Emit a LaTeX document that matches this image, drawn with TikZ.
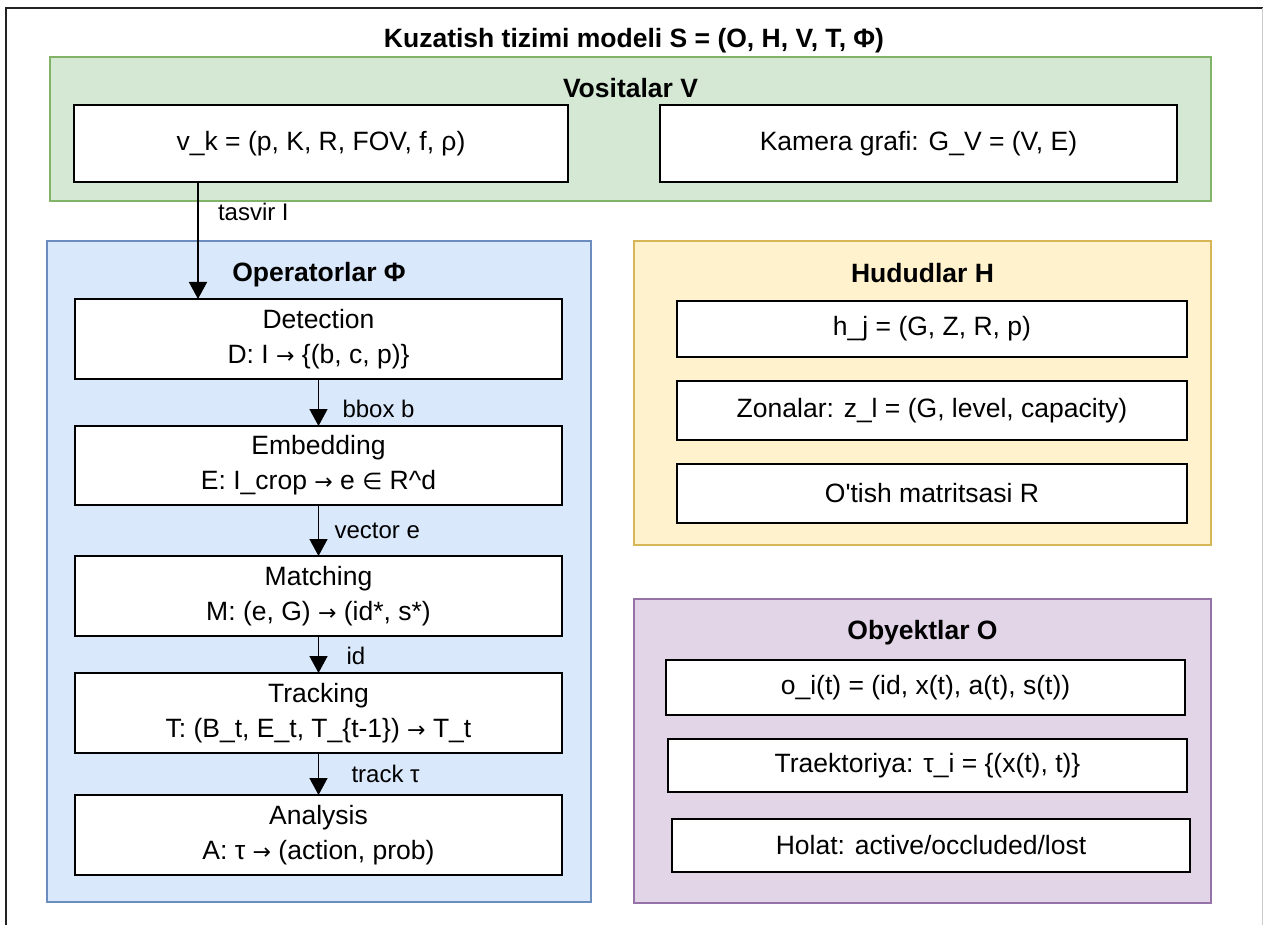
\documentclass[tikz,border=0pt]{standalone}
\usepackage{fontspec}
\setmainfont{Liberation Sans}
\newfontfamily\dejavu{DejaVu Sans}
\newcommand{\rarr}{{\dejavu\fontsize{22}{22}\selectfont →}}
\usetikzlibrary{arrows.meta}
\definecolor{gfill}{HTML}{D5E8D4}
\definecolor{gline}{HTML}{82B366}
\definecolor{bfill}{HTML}{DAE8FC}
\definecolor{bline}{HTML}{6C8EBF}
\definecolor{yfill}{HTML}{FFF2CC}
\definecolor{yline}{HTML}{D6B656}
\definecolor{pfill}{HTML}{E1D5E7}
\definecolor{pline}{HTML}{9673A6}
\definecolor{frameline}{HTML}{222222}
\definecolor{edgeline}{HTML}{CCCCCC}
\begin{document}
\begin{tikzpicture}[x=1pt,y=-1pt,
  every node/.style={inner sep=0pt, outer sep=0pt},
  box/.style={draw=black, line width=1.5pt, fill=white, align=center,
    font=\fontsize{26.5}{35}\selectfont},
  grp/.style={line width=2pt},
  grptitle/.style={font=\fontsize{26.5}{32}\selectfont\bfseries},
  arr/.style={draw=black, line width=1.5pt, -{Triangle[length=17pt,width=18pt]}},
  lbl/.style={font=\fontsize{24}{28}\selectfont, anchor=west}
]
\useasboundingbox (0,0) rectangle (1263,925);
% outer frame
\draw[frameline, line width=1.5pt] (6,930) -- (6,8) -- (1263,8);
\draw[edgeline, line width=1pt] (1262,8) -- (1262,930);
% title
\node[grptitle] (title) at (634,41) {Kuzatish tizimi modeli S = (O, H, V, T, Φ)};

% containers
\node[grp, draw=gline, fill=gfill, minimum width=1161pt, minimum height=144pt] (gV) at (630.5,129) {};
\node[grp, draw=bline, fill=bfill, minimum width=544pt, minimum height=661pt] (gP) at (319,571.5) {};
\node[grp, draw=yline, fill=yfill, minimum width=577pt, minimum height=304pt] (gH) at (922.5,393) {};
\node[grp, draw=pline, fill=pfill, minimum width=577pt, minimum height=304pt] (gO) at (922.5,751) {};

\node[grptitle] (tV) at (630.5,88) {Vositalar V};
\node[grptitle] (tP) at (319,275) {Operatorlar Φ};
\node[grptitle] (tH) at (922.5,273) {Hududlar H};
\node[grptitle] (tO) at (922.5,633) {Obyektlar O};

% Vositalar
\node[box, minimum width=494pt, minimum height=77pt] (vk) at (321,143.5) {v\_k = (p, K, R, FOV, f, ρ)};
\node[box, minimum width=517pt, minimum height=77pt] (kam) at (918.5,143.5) {Kamera grafi: G\_V = (V, E)};

% Operators
\node[box, minimum width=487pt, minimum height=80pt] (det) at (318.5,339) {Detection\\D: I \rarr{} \{(b, c, p)\}};
\node[box, minimum width=487pt, minimum height=79pt] (emb) at (318.5,465.5) {Embedding\\E: I\_crop \rarr{} e {\dejavu\fontsize{23}{23}\selectfont ∈} R\textasciicircum d};
\node[box, minimum width=487pt, minimum height=80pt] (mat) at (318.5,596) {Matching\\M: (e, G) \rarr{} (id*, s*)};
\node[box, minimum width=487pt, minimum height=80pt] (trk) at (318.5,713) {Tracking\\T: (B\_t, E\_t, T\_\{t-1\}) \rarr{} T\_t};
\node[box, minimum width=487pt, minimum height=80pt] (ana) at (318.5,835) {Analysis\\A: τ \rarr{} (action, prob)};

% Hududlar
\node[box, minimum width=510pt, minimum height=56pt] (hj) at (932,329) {h\_j = (G, Z, R, p)};
\node[box, minimum width=510pt, minimum height=59pt] (zon) at (932,410.5) {Zonalar: z\_l = (G, level, capacity)};
\node[box, minimum width=510pt, minimum height=59pt] (otm) at (932,493.5) {O\textquotesingle tish matritsasi R};

% Obyektlar
\node[box, minimum width=519pt, minimum height=55pt] (oi) at (925.5,687.5) {o\_i(t) = (id, x(t), a(t), s(t))};
\node[box, minimum width=519pt, minimum height=53pt] (trj) at (927.5,765.5) {Traektoriya: τ\_i = \{(x(t), t)\}};
\node[box, minimum width=518pt, minimum height=53pt] (hol) at (931,845.5) {Holat: active/occluded/lost};

% connectors
\coordinate (ax) at (198,0);
\draw[arr] (vk.south -| ax) -- node[lbl, pos=0.26, xshift=20pt] (l0) {tasvir I} (det.north -| ax);
\draw[arr] (det) -- node[lbl, pos=0.64, xshift=24pt] (l1) {bbox b} (emb);
\draw[arr] (emb) -- node[lbl, pos=0.51, xshift=16pt] (l2) {vector e} (mat);
\draw[arr] (mat) -- node[lbl, pos=0.54, xshift=28pt] (l3) {id} (trk);
\draw[arr] (trk) -- node[lbl, pos=0.5, xshift=33pt] (l4) {track τ} (ana);
\end{tikzpicture}
\end{document}
